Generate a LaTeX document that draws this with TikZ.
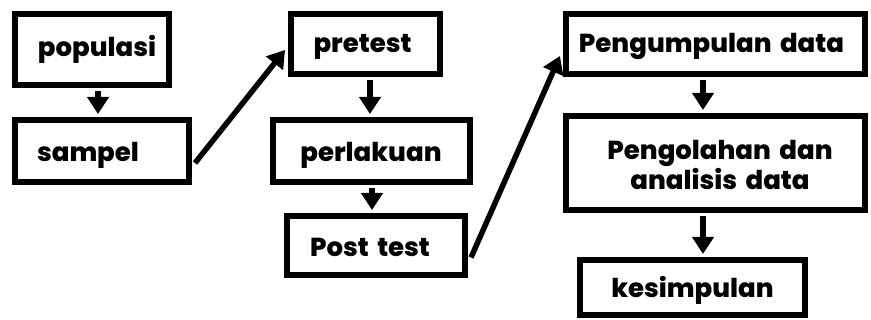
\documentclass[tikz,border=0pt]{standalone}
\usepackage{fontspec}
\setmainfont{Poppins}
\newfontfamily\heavy{Poppins ExtraBold}[WordSpace=1.7]
\usetikzlibrary{arrows.meta,calc}
\begin{document}
\begin{tikzpicture}[x=1pt,y=-1pt,
  box/.style={draw=black,line width=6pt,fill=white,inner sep=0pt,align=center},
  lbl/.style={inner sep=0pt,align=center,font=\fontsize{26}{30}\selectfont\heavy},
  arr/.style={line width=5.5pt,-{Triangle[length=17pt,width=21pt]}}]
\useasboundingbox (0,0) rectangle (871,320);
\node[box,minimum width=154pt,minimum height=71pt] (populasi) at (92,49.5) {};
\node[box,minimum width=174pt,minimum height=62pt] (sampel) at (102,151) {};
\node[box,minimum width=149pt,minimum height=60pt] (pretest) at (365.5,44) {};
\node[box,minimum width=197pt,minimum height=62pt] (perlakuan) at (371.5,151) {};
\node[box,minimum width=178pt,minimum height=59pt] (posttest) at (376,245.5) {};
\node[box,minimum width=299pt,minimum height=60pt] (kumpul) at (715.5,44) {};
\node[box,minimum width=299pt,minimum height=94pt] (olah) at (715.5,163) {};
\node[box,minimum width=225pt,minimum height=55pt] (simpul) at (692.5,287.5) {};
\node[lbl] (tpopulasi) at (97,49) {populasi};
\node[lbl] (tsampel) at (88,155) {sampel};
\node[lbl] (tpretest) at (362.5,47) {pretest};
\node[lbl] (tperlakuan) at (371,155) {perlakuan};
\node[lbl] (tposttest) at (370,247) {Post test};
\node[lbl] (tkumpul) at (711.5,46) {Pengumpulan data};
\node[lbl] (tolah) at (720,165) {Pengolahan dan\\analisis data};
\node[lbl] (tsimpul) at (692.5,290) {kesimpulan};
\coordinate (c1) at (98,0);
\coordinate (c2) at (370,0);
\coordinate (c3) at (372,0);
\coordinate (c4) at (703,0);
\draw[arr] ([yshift=-3pt]populasi.south -| c1) -- ([yshift=3pt]sampel.north -| c1);
\draw[arr] ([yshift=-3pt]pretest.south -| c2) -- ([yshift=3pt]perlakuan.north -| c2);
\draw[arr] ([yshift=-3pt]perlakuan.south -| c3) -- ([yshift=3pt]posttest.north -| c3);
\draw[arr] ([yshift=-3pt]kumpul.south -| c4) -- ([yshift=3pt]olah.north -| c4);
\draw[arr] ([yshift=-3pt]olah.south -| c4) -- ([yshift=3pt]simpul.north -| c4);
\draw[arr] ($(sampel.east)+(3,12)$) -- ($(pretest.west)+(-3,6)$);
\draw[arr] ($(posttest.east)+(3,12)$) -- ($(kumpul.west)+(-3,12)$);
\end{tikzpicture}
\end{document}
